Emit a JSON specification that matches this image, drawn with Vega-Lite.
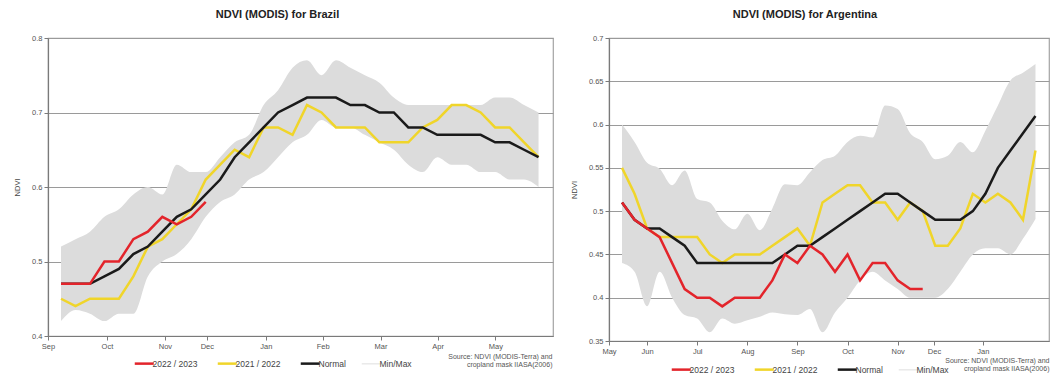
{
  "$schema": "https://vega.github.io/schema/vega-lite/v6.json",
  "padding": {"left": 12, "top": 8, "right": 2, "bottom": 0},
  "spacing": 15,
  "background": "white",
  "config": {
    "font": "Liberation Sans",
    "view": {"stroke": "#a3a3a3", "strokeWidth": 1.2},
    "axis": {
      "labelFont": "Liberation Sans", "labelFontSize": 7.5, "labelColor": "#555555",
      "tickColor": "#7a7a7a", "domainColor": "#7a7a7a", "tickSize": 4, "labelPadding": 2,
      "titleFont": "Liberation Sans", "titleFontSize": 7.5, "titleColor": "#444444", "titleFontWeight": "normal",
      "gridColor": "#9a9a9a", "gridWidth": 1.2, "domainWidth": 1.2
    },
    "title": {"font": "Liberation Sans", "fontSize": 11, "fontWeight": "bold", "color": "#222222", "offset": 14},
    "legend": {
      "orient": "none", "direction": "horizontal", "title": null, "symbolType": "stroke",
      "symbolSize": 361, "symbolStrokeWidth": 2.5, "labelFont": "Liberation Sans", "labelFontSize": 8.5,
      "labelColor": "#444444", "columnPadding": 14, "labelOffset": 4
    }
  },
  "datasets": {
    "br_band": [
      {"t":1,"v":0.42,"hi":0.52},{"t":2,"v":0.435,"hi":0.53},{"t":3,"v":0.43,"hi":0.54},{"t":4,"v":0.42,"hi":0.56},
      {"t":5,"v":0.43,"hi":0.57},{"t":6,"v":0.43,"hi":0.59},{"t":7,"v":0.48,"hi":0.60},{"t":8,"v":0.50,"hi":0.59},
      {"t":9,"v":0.51,"hi":0.63},{"t":10,"v":0.53,"hi":0.62},{"t":11,"v":0.56,"hi":0.62},{"t":12,"v":0.58,"hi":0.64},
      {"t":13,"v":0.59,"hi":0.66},{"t":14,"v":0.61,"hi":0.67},{"t":15,"v":0.62,"hi":0.71},{"t":16,"v":0.64,"hi":0.73},
      {"t":17,"v":0.66,"hi":0.76},{"t":18,"v":0.67,"hi":0.77},{"t":19,"v":0.69,"hi":0.75},{"t":20,"v":0.68,"hi":0.77},
      {"t":21,"v":0.68,"hi":0.76},{"t":22,"v":0.67,"hi":0.75},{"t":23,"v":0.66,"hi":0.74},{"t":24,"v":0.65,"hi":0.72},
      {"t":25,"v":0.63,"hi":0.71},{"t":26,"v":0.62,"hi":0.71},{"t":27,"v":0.64,"hi":0.71},{"t":28,"v":0.63,"hi":0.71},
      {"t":29,"v":0.63,"hi":0.71},{"t":30,"v":0.62,"hi":0.71},{"t":31,"v":0.62,"hi":0.72},{"t":32,"v":0.61,"hi":0.72},
      {"t":33,"v":0.61,"hi":0.71},{"t":34,"v":0.60,"hi":0.70}
    ],
    "br_lines": [
      {"t":1,"s":"2021 / 2022","v":0.45},{"t":2,"s":"2021 / 2022","v":0.44},{"t":3,"s":"2021 / 2022","v":0.45},{"t":4,"s":"2021 / 2022","v":0.45},
      {"t":5,"s":"2021 / 2022","v":0.45},{"t":6,"s":"2021 / 2022","v":0.48},{"t":7,"s":"2021 / 2022","v":0.52},{"t":8,"s":"2021 / 2022","v":0.53},
      {"t":9,"s":"2021 / 2022","v":0.55},{"t":10,"s":"2021 / 2022","v":0.57},{"t":11,"s":"2021 / 2022","v":0.61},{"t":12,"s":"2021 / 2022","v":0.63},
      {"t":13,"s":"2021 / 2022","v":0.65},{"t":14,"s":"2021 / 2022","v":0.64},{"t":15,"s":"2021 / 2022","v":0.68},{"t":16,"s":"2021 / 2022","v":0.68},
      {"t":17,"s":"2021 / 2022","v":0.67},{"t":18,"s":"2021 / 2022","v":0.71},{"t":19,"s":"2021 / 2022","v":0.70},{"t":20,"s":"2021 / 2022","v":0.68},
      {"t":21,"s":"2021 / 2022","v":0.68},{"t":22,"s":"2021 / 2022","v":0.68},{"t":23,"s":"2021 / 2022","v":0.66},{"t":24,"s":"2021 / 2022","v":0.66},
      {"t":25,"s":"2021 / 2022","v":0.66},{"t":26,"s":"2021 / 2022","v":0.68},{"t":27,"s":"2021 / 2022","v":0.69},{"t":28,"s":"2021 / 2022","v":0.71},
      {"t":29,"s":"2021 / 2022","v":0.71},{"t":30,"s":"2021 / 2022","v":0.70},{"t":31,"s":"2021 / 2022","v":0.68},{"t":32,"s":"2021 / 2022","v":0.68},
      {"t":33,"s":"2021 / 2022","v":0.66},{"t":34,"s":"2021 / 2022","v":0.64},
      {"t":1,"s":"Normal","v":0.47},{"t":2,"s":"Normal","v":0.47},{"t":3,"s":"Normal","v":0.47},{"t":4,"s":"Normal","v":0.48},
      {"t":5,"s":"Normal","v":0.49},{"t":6,"s":"Normal","v":0.51},{"t":7,"s":"Normal","v":0.52},{"t":8,"s":"Normal","v":0.54},
      {"t":9,"s":"Normal","v":0.56},{"t":10,"s":"Normal","v":0.57},{"t":11,"s":"Normal","v":0.59},{"t":12,"s":"Normal","v":0.61},
      {"t":13,"s":"Normal","v":0.64},{"t":14,"s":"Normal","v":0.66},{"t":15,"s":"Normal","v":0.68},{"t":16,"s":"Normal","v":0.70},
      {"t":17,"s":"Normal","v":0.71},{"t":18,"s":"Normal","v":0.72},{"t":19,"s":"Normal","v":0.72},{"t":20,"s":"Normal","v":0.72},
      {"t":21,"s":"Normal","v":0.71},{"t":22,"s":"Normal","v":0.71},{"t":23,"s":"Normal","v":0.70},{"t":24,"s":"Normal","v":0.70},
      {"t":25,"s":"Normal","v":0.68},{"t":26,"s":"Normal","v":0.68},{"t":27,"s":"Normal","v":0.67},{"t":28,"s":"Normal","v":0.67},
      {"t":29,"s":"Normal","v":0.67},{"t":30,"s":"Normal","v":0.67},{"t":31,"s":"Normal","v":0.66},{"t":32,"s":"Normal","v":0.66},
      {"t":33,"s":"Normal","v":0.65},{"t":34,"s":"Normal","v":0.64},
      {"t":1,"s":"2022 / 2023","v":0.47},{"t":2,"s":"2022 / 2023","v":0.47},{"t":3,"s":"2022 / 2023","v":0.47},{"t":4,"s":"2022 / 2023","v":0.50},
      {"t":5,"s":"2022 / 2023","v":0.50},{"t":6,"s":"2022 / 2023","v":0.53},{"t":7,"s":"2022 / 2023","v":0.54},{"t":8,"s":"2022 / 2023","v":0.56},
      {"t":9,"s":"2022 / 2023","v":0.55},{"t":10,"s":"2022 / 2023","v":0.56},{"t":11,"s":"2022 / 2023","v":0.58}
    ],
    "ar_band": [
      {"t":1,"v":0.44,"hi":0.60},{"t":2,"v":0.43,"hi":0.58},{"t":3,"v":0.39,"hi":0.556},{"t":4,"v":0.43,"hi":0.549},
      {"t":5,"v":0.40,"hi":0.53},{"t":6,"v":0.38,"hi":0.547},{"t":7,"v":0.376,"hi":0.514},{"t":8,"v":0.36,"hi":0.51},
      {"t":9,"v":0.376,"hi":0.489},{"t":10,"v":0.37,"hi":0.479},{"t":11,"v":0.374,"hi":0.497},{"t":12,"v":0.378,"hi":0.478},
      {"t":13,"v":0.383,"hi":0.503},{"t":14,"v":0.381,"hi":0.531},{"t":15,"v":0.38,"hi":0.53},{"t":16,"v":0.387,"hi":0.545},
      {"t":17,"v":0.36,"hi":0.559},{"t":18,"v":0.383,"hi":0.564},{"t":19,"v":0.40,"hi":0.58},{"t":20,"v":0.42,"hi":0.587},
      {"t":21,"v":0.43,"hi":0.585},{"t":22,"v":0.42,"hi":0.622},{"t":23,"v":0.41,"hi":0.618},{"t":24,"v":0.40,"hi":0.59},
      {"t":25,"v":0.40,"hi":0.58},{"t":26,"v":0.40,"hi":0.56},{"t":27,"v":0.41,"hi":0.564},{"t":28,"v":0.43,"hi":0.58},
      {"t":29,"v":0.45,"hi":0.568},{"t":30,"v":0.457,"hi":0.593},{"t":31,"v":0.457,"hi":0.622},{"t":32,"v":0.45,"hi":0.651},
      {"t":33,"v":0.468,"hi":0.66},{"t":34,"v":0.491,"hi":0.67}
    ],
    "ar_lines": [
      {"t":1,"s":"2021 / 2022","v":0.55},{"t":2,"s":"2021 / 2022","v":0.52},{"t":3,"s":"2021 / 2022","v":0.48},{"t":4,"s":"2021 / 2022","v":0.47},
      {"t":5,"s":"2021 / 2022","v":0.47},{"t":6,"s":"2021 / 2022","v":0.47},{"t":7,"s":"2021 / 2022","v":0.47},{"t":8,"s":"2021 / 2022","v":0.45},
      {"t":9,"s":"2021 / 2022","v":0.44},{"t":10,"s":"2021 / 2022","v":0.45},{"t":11,"s":"2021 / 2022","v":0.45},{"t":12,"s":"2021 / 2022","v":0.45},
      {"t":13,"s":"2021 / 2022","v":0.46},{"t":14,"s":"2021 / 2022","v":0.47},{"t":15,"s":"2021 / 2022","v":0.48},{"t":16,"s":"2021 / 2022","v":0.46},
      {"t":17,"s":"2021 / 2022","v":0.51},{"t":18,"s":"2021 / 2022","v":0.52},{"t":19,"s":"2021 / 2022","v":0.53},{"t":20,"s":"2021 / 2022","v":0.53},
      {"t":21,"s":"2021 / 2022","v":0.51},{"t":22,"s":"2021 / 2022","v":0.51},{"t":23,"s":"2021 / 2022","v":0.49},{"t":24,"s":"2021 / 2022","v":0.51},
      {"t":25,"s":"2021 / 2022","v":0.50},{"t":26,"s":"2021 / 2022","v":0.46},{"t":27,"s":"2021 / 2022","v":0.46},{"t":28,"s":"2021 / 2022","v":0.48},
      {"t":29,"s":"2021 / 2022","v":0.52},{"t":30,"s":"2021 / 2022","v":0.51},{"t":31,"s":"2021 / 2022","v":0.52},{"t":32,"s":"2021 / 2022","v":0.51},
      {"t":33,"s":"2021 / 2022","v":0.49},{"t":34,"s":"2021 / 2022","v":0.57},
      {"t":1,"s":"Normal","v":0.51},{"t":2,"s":"Normal","v":0.49},{"t":3,"s":"Normal","v":0.48},{"t":4,"s":"Normal","v":0.48},
      {"t":5,"s":"Normal","v":0.47},{"t":6,"s":"Normal","v":0.46},{"t":7,"s":"Normal","v":0.44},{"t":8,"s":"Normal","v":0.44},
      {"t":9,"s":"Normal","v":0.44},{"t":10,"s":"Normal","v":0.44},{"t":11,"s":"Normal","v":0.44},{"t":12,"s":"Normal","v":0.44},
      {"t":13,"s":"Normal","v":0.44},{"t":14,"s":"Normal","v":0.45},{"t":15,"s":"Normal","v":0.46},{"t":16,"s":"Normal","v":0.46},
      {"t":17,"s":"Normal","v":0.47},{"t":18,"s":"Normal","v":0.48},{"t":19,"s":"Normal","v":0.49},{"t":20,"s":"Normal","v":0.50},
      {"t":21,"s":"Normal","v":0.51},{"t":22,"s":"Normal","v":0.52},{"t":23,"s":"Normal","v":0.52},{"t":24,"s":"Normal","v":0.51},
      {"t":25,"s":"Normal","v":0.50},{"t":26,"s":"Normal","v":0.49},{"t":27,"s":"Normal","v":0.49},{"t":28,"s":"Normal","v":0.49},
      {"t":29,"s":"Normal","v":0.50},{"t":30,"s":"Normal","v":0.52},{"t":31,"s":"Normal","v":0.55},{"t":32,"s":"Normal","v":0.57},
      {"t":33,"s":"Normal","v":0.59},{"t":34,"s":"Normal","v":0.61},
      {"t":1,"s":"2022 / 2023","v":0.51},{"t":2,"s":"2022 / 2023","v":0.49},{"t":3,"s":"2022 / 2023","v":0.48},{"t":4,"s":"2022 / 2023","v":0.47},
      {"t":5,"s":"2022 / 2023","v":0.44},{"t":6,"s":"2022 / 2023","v":0.41},{"t":7,"s":"2022 / 2023","v":0.40},{"t":8,"s":"2022 / 2023","v":0.40},
      {"t":9,"s":"2022 / 2023","v":0.39},{"t":10,"s":"2022 / 2023","v":0.40},{"t":11,"s":"2022 / 2023","v":0.40},{"t":12,"s":"2022 / 2023","v":0.40},
      {"t":13,"s":"2022 / 2023","v":0.42},{"t":14,"s":"2022 / 2023","v":0.45},{"t":15,"s":"2022 / 2023","v":0.44},{"t":16,"s":"2022 / 2023","v":0.46},
      {"t":17,"s":"2022 / 2023","v":0.45},{"t":18,"s":"2022 / 2023","v":0.43},{"t":19,"s":"2022 / 2023","v":0.45},{"t":20,"s":"2022 / 2023","v":0.42},
      {"t":21,"s":"2022 / 2023","v":0.44},{"t":22,"s":"2022 / 2023","v":0.44},{"t":23,"s":"2022 / 2023","v":0.42},{"t":24,"s":"2022 / 2023","v":0.41},
      {"t":25,"s":"2022 / 2023","v":0.41}
    ]
  },
  "resolve": {"scale": {"color": "independent"}, "legend": {"color": "independent"}},
  "hconcat": [
    {
      "width": 505, "height": 298,
      "title": {"text": "NDVI (MODIS) for Brazil", "dx": -23},
      "encoding": {
        "x": {"field": "t", "type": "quantitative",
          "scale": {"domain": [0.1, 35], "nice": false, "zero": false},
          "axis": {"values": [0.1, 4.17, 8.18, 11.08, 15.15, 19.08, 23.08, 27.02, 31.02], "grid": false,
            "labelExpr": "datum.value < 2 ? 'Sep' : datum.value < 6 ? 'Oct' : datum.value < 10 ? 'Nov' : datum.value < 13 ? 'Dec' : datum.value < 17 ? 'Jan' : datum.value < 21 ? 'Feb' : datum.value < 25 ? 'Mar' : datum.value < 29 ? 'Apr' : 'May'",
            "labelFlush": false, "labelOverlap": false,
            "title": ["Source: NDVI (MODIS-Terra) and", "cropland mask IIASA(2006)"],
            "titleAnchor": "end", "titleAlign": "right", "titleFontSize": 7, "titleColor": "#555555", "titleLineHeight": 7.5, "titlePadding": 3, "titleX": 504}},
        "y": {"field": "v", "type": "quantitative",
          "scale": {"domain": [0.4, 0.8], "nice": false, "zero": false},
          "axis": {"values": [0.4, 0.5, 0.6, 0.7, 0.8], "format": ".2~f", "title": "NDVI", "titlePadding": 10}}
      },
      "layer": [
        {"data": {"name": "br_band"}, "mark": {"type": "area", "color": "#dcdcdc", "interpolate": "monotone"},
         "encoding": {"y2": {"field": "hi"}}},
        {"data": {"name": "br_lines"}, "mark": {"type": "line", "strokeWidth": 2.5},
         "encoding": {"color": {"field": "s", "type": "nominal",
           "scale": {"domain": ["2022 / 2023", "2021 / 2022", "Normal", "Min/Max"], "range": ["#e3242b", "#f0d52a", "#1a1a1a", "#d4d4d4"]},
           "legend": {"legendX": 92, "legendY": 321,
             "encode": {"symbols": {"update": {"strokeWidth": {"signal": "datum.value === 'Min/Max' ? 0.8 : 2.5"}}}}}}}}
      ]
    },
    {
      "width": 440, "height": 303,
      "title": {"text": "NDVI (MODIS) for Argentina", "dx": -24},
      "encoding": {
        "x": {"field": "t", "type": "quantitative",
          "scale": {"domain": [-0.04, 35.08], "nice": false, "zero": false},
          "axis": {"values": [-0.04, 3, 7, 11, 15, 19, 23, 25.9, 29.8], "grid": false,
            "labelExpr": "datum.value < 1 ? 'May' : datum.value < 5 ? 'Jun' : datum.value < 9 ? 'Jul' : datum.value < 13 ? 'Aug' : datum.value < 17 ? 'Sep' : datum.value < 21 ? 'Oct' : datum.value < 24.5 ? 'Nov' : datum.value < 28 ? 'Dec' : 'Jan'",
            "labelFlush": false, "labelOverlap": false,
            "title": ["Source: NDVI (MODIS-Terra) and", "cropland mask IIASA(2006)"],
            "titleAnchor": "end", "titleAlign": "right", "titleFontSize": 7, "titleColor": "#555555", "titleLineHeight": 7.5, "titlePadding": 2}},
        "y": {"field": "v", "type": "quantitative",
          "scale": {"domain": [0.35, 0.7], "nice": false, "zero": false},
          "axis": {"values": [0.35, 0.4, 0.45, 0.5, 0.55, 0.6, 0.65, 0.7], "format": ".2~f", "title": "NDVI", "titlePadding": 10}}
      },
      "layer": [
        {"data": {"name": "ar_band"}, "mark": {"type": "area", "color": "#dcdcdc", "interpolate": "monotone"},
         "encoding": {"y2": {"field": "hi"}}},
        {"data": {"name": "ar_lines"}, "mark": {"type": "line", "strokeWidth": 2.5},
         "encoding": {"color": {"field": "s", "type": "nominal",
           "scale": {"domain": ["2022 / 2023", "2021 / 2022", "Normal", "Min/Max"], "range": ["#e3242b", "#f0d52a", "#1a1a1a", "#d4d4d4"]},
           "legend": {"legendX": 68, "legendY": 327,
             "encode": {"symbols": {"update": {"strokeWidth": {"signal": "datum.value === 'Min/Max' ? 0.8 : 2.5"}}}}}}}}
      ]
    }
  ]
}
